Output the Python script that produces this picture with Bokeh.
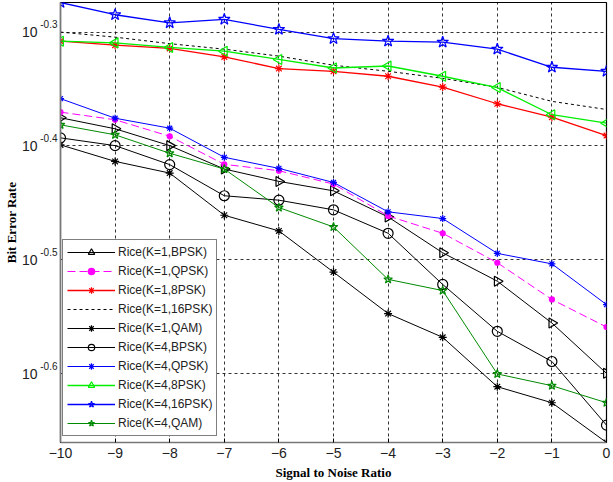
from bokeh.plotting import figure
from bokeh.models import Range1d, FixedTicker, Legend, LegendItem, LogAxis
from bokeh.embed import file_html
from bokeh.resources import INLINE

# Signal to noise ratio (dB)
snr = [-10, -9, -8, -7, -6, -5, -4, -3, -2, -1, 0]

# Bit error rate per scheme, Rician channel with K factor 1 and 4
ber_k1_bpsk = [0.4215, 0.4122, 0.3984, 0.3800, 0.3706, 0.3636, 0.3449, 0.3208, 0.3029, 0.2783, 0.2514]
ber_k1_qpsk = [0.4263, 0.4198, 0.4060, 0.3836, 0.3787, 0.3686, 0.3456, 0.3337, 0.3144, 0.2919, 0.2761]
ber_k1_8psk = [0.4921, 0.4881, 0.4849, 0.4767, 0.4656, 0.4630, 0.4584, 0.4485, 0.4336, 0.4220, 0.4066]
ber_k1_16psk = [0.5012, 0.4961, 0.4896, 0.4842, 0.4774, 0.4687, 0.4630, 0.4565, 0.4482, 0.4357, 0.4286]
ber_k1_qam = [0.3990, 0.3859, 0.3769, 0.3461, 0.3353, 0.3085, 0.2837, 0.2704, 0.2447, 0.2369, 0.2186]
ber_k4_bpsk = [0.4047, 0.3984, 0.3834, 0.3600, 0.3568, 0.3499, 0.3337, 0.3009, 0.2737, 0.2575, 0.2264]
ber_k4_qpsk = [0.4381, 0.4211, 0.4127, 0.3891, 0.3805, 0.3698, 0.3485, 0.3438, 0.3204, 0.3137, 0.2889]
ber_k4_8psk = [0.4921, 0.4904, 0.4859, 0.4822, 0.4742, 0.4661, 0.4680, 0.4584, 0.4480, 0.4241, 0.4169]
ber_k4_16psk = [0.5321, 0.5191, 0.5107, 0.5143, 0.5039, 0.4946, 0.4921, 0.4911, 0.4842, 0.4668, 0.4630]
ber_k4_qam = [0.4155, 0.4072, 0.3923, 0.3800, 0.3515, 0.3380, 0.3040, 0.2972, 0.2511, 0.2452, 0.2369]

series_labels = [
    "Rice(K=1,BPSK)", "Rice(K=1,QPSK)", "Rice(K=1,8PSK)", "Rice(K=1,16PSK)", "Rice(K=1,QAM)",
    "Rice(K=4,BPSK)", "Rice(K=4,QPSK)", "Rice(K=4,8PSK)", "Rice(K=4,16PSK)", "Rice(K=4,QAM)",
]
series_values = [
    ber_k1_bpsk, ber_k1_qpsk, ber_k1_8psk, ber_k1_16psk, ber_k1_qam,
    ber_k4_bpsk, ber_k4_qpsk, ber_k4_8psk, ber_k4_16psk, ber_k4_qam,
]

# Decade exponents shown on the y axis (labels read 10^exponent)
y_exponents = [-0.3, -0.4, -0.5, -0.6]
x_ticks = snr

# line colour, dash, width, marker, marker size, filled, marker angle (deg)
styles = [
    ("black", "solid", 1.0, "triangle", 10, False, -90),
    ("#ff00ff", "8 4", 1.0, "circle", 5, True, 0),
    ("#ff0000", "solid", 1.3, "asterisk", 8, False, 0),
    ("black", "3 3", 1.0, None, 0, False, 0),
    ("black", "solid", 1.0, "asterisk", 8, False, 0),
    ("black", "solid", 1.0, "circle", 10, False, 0),
    ("#0000ff", "solid", 1.0, "asterisk", 7, False, 0),
    ("#00ee00", "solid", 1.3, "triangle", 10, False, 90),
    ("#0000ff", "solid", 1.3, "star", 12, False, 0),
    ("#008a00", "solid", 1.0, "star", 9, False, 0),
]

all_values = [v for s in series_values for v in s]

p = figure(
    width=613, height=482,
    x_range=Range1d(-10, 0),
    y_range=Range1d(min(all_values), max(all_values)),
    y_axis_type="log",
    output_backend="svg",
    toolbar_location=None,
    min_border_left=58, min_border_right=7, min_border_top=2, min_border_bottom=40,
)
p.background_fill_color = "white"
p.border_fill_color = "white"
p.outline_line_color = "black"
p.outline_line_width = 1.2

y_tick_values = [10 ** e for e in y_exponents]
# exponent text sits a little above its tick, like a superscript
sup_shift = 0.007
y_sup_positions = [10 ** (e + sup_shift) for e in y_exponents]


def style_axis(ax):
    ax.major_tick_in = 4
    ax.major_tick_out = 0
    ax.major_tick_line_color = "black"
    ax.minor_tick_line_color = None
    ax.major_label_text_font = "Liberation Sans"
    ax.major_label_text_font_size = "14px"
    ax.major_label_text_color = "#222222"
    ax.axis_label_text_font = "Liberation Serif"
    ax.axis_label_text_font_style = "bold"
    ax.axis_label_text_font_size = "13px"
    ax.axis_label_text_color = "black"


# x axis
xa = p.xaxis[0]
style_axis(xa)
xa.ticker = FixedTicker(ticks=x_ticks)
xa.axis_line_color = "#777777"
xa.axis_line_width = 1.5
xa.axis_label = "Signal to Noise Ratio"
xa.major_label_standoff = 5
xa.axis_label_standoff = 4

# inner y axis: the superscript exponents
ya = p.yaxis[0]
style_axis(ya)
ya.ticker = FixedTicker(ticks=y_sup_positions, minor_ticks=[])
ya.major_label_overrides = {t: f"{e:.1f}" for t, e in zip(y_sup_positions, y_exponents)}
ya.major_label_text_font_size = "10px"
ya.major_label_standoff = 3
ya.major_tick_line_color = None
ya.axis_line_color = "#777777"
ya.axis_line_width = 1.5

# outer y axis: the base "10" and the axis title
yb = LogAxis(ticker=FixedTicker(ticks=y_tick_values, minor_ticks=[]))
style_axis(yb)
yb.major_label_overrides = {t: "10" for t in y_tick_values}
yb.major_label_standoff = 0
yb.major_tick_line_color = None
yb.axis_line_color = None
yb.axis_label = "Bit Error Rate"
yb.axis_label_standoff = 0
p.add_layout(yb, "left")

# Dotted grid at the true tick positions
p.xgrid[0].ticker = FixedTicker(ticks=x_ticks)
p.ygrid[0].ticker = FixedTicker(ticks=y_tick_values, minor_ticks=[])
for g in (p.xgrid[0], p.ygrid[0]):
    g.grid_line_color = "black"
    g.grid_line_dash = "3 3"
    g.grid_line_alpha = 0.8
    g.grid_line_width = 1

items = []
for label, values, (color, dash, lw, marker, size, filled, angle) in zip(series_labels, series_values, styles):
    rs = [p.line(snr, values, line_color=color, line_dash=dash, line_width=lw)]
    if marker is not None:
        rs.append(p.scatter(
            snr, values, marker=marker, size=size, angle=angle, angle_units="deg",
            line_color=color, line_width=1.2,
            fill_color=color if filled else None,
        ))
    items.append(LegendItem(label=label, renderers=rs))

legend = Legend(
    items=items,
    location=(2, 6),
    margin=0,
    padding=4,
    spacing=3,
    glyph_width=48,
    glyph_height=16,
    label_height=16,
    label_standoff=3,
    label_text_font="Liberation Sans",
    label_text_font_size="12px",
    label_text_color="#222222",
    border_line_color="black",
    border_line_width=1.5,
    background_fill_color="white",
    background_fill_alpha=1.0,
)
p.add_layout(legend)

open("out.html", "w").write(file_html(p, INLINE))
